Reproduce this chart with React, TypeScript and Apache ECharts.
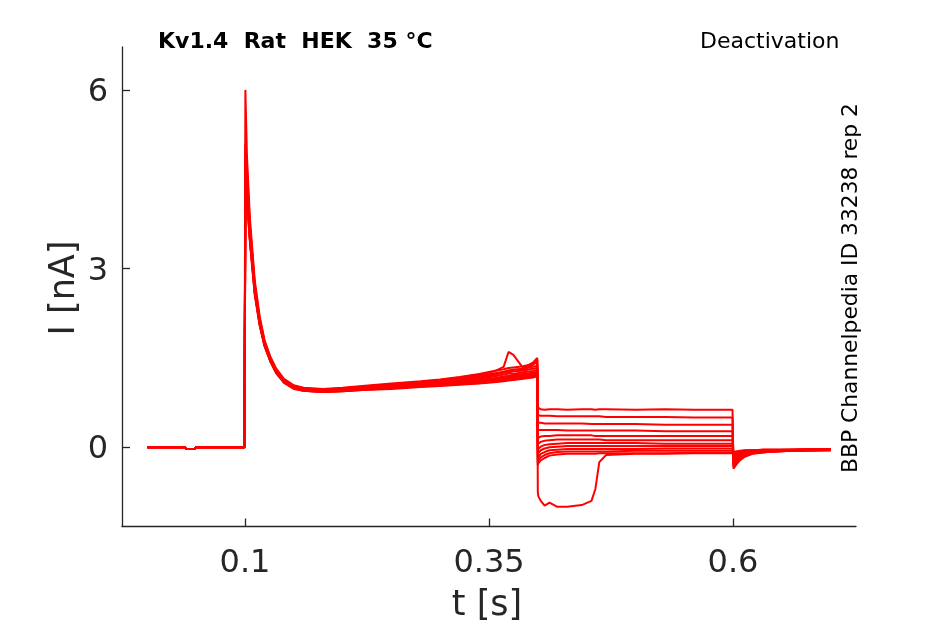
import React, { useEffect, useRef } from "react";
import * as echarts from "echarts";

const X_TICKS = [0.1, 0.35, 0.6];
const Y_TICKS = [0, 3, 6];

const PRE_T = [0, 0.038, 0.04, 0.048, 0.05, 0.0995];
const PRE_I = [0, 0, -0.03, -0.03, 0, 0];

const ACT_T = [0.1, 0.1004, 0.102, 0.105, 0.11, 0.115, 0.12, 0.126, 0.132, 0.14, 0.15, 0.16, 0.18, 0.2, 0.22, 0.25, 0.28, 0.3, 0.32, 0.34, 0.355, 0.365, 0.37, 0.375, 0.385, 0.395, 0.3995];
const ACT_1 = [0, 6.0, 4.9, 3.85, 2.8, 2.2, 1.8, 1.52, 1.32, 1.15, 1.04, 1.0, 0.98, 1.0, 1.03, 1.07, 1.11, 1.14, 1.18, 1.23, 1.28, 1.31, 1.33, 1.34, 1.36, 1.4, 1.42];
const ACT_2 = [0, 5.1, 4.7, 3.75, 2.75, 2.17, 1.78, 1.5, 1.3, 1.13, 1.03, 0.99, 0.97, 0.99, 1.02, 1.06, 1.1, 1.13, 1.17, 1.22, 1.27, 1.35, 1.6, 1.55, 1.33, 1.42, 1.5];
const ACT_3 = [0, 4.9, 4.6, 3.7, 2.72, 2.15, 1.77, 1.49, 1.29, 1.12, 1.02, 0.98, 0.96, 0.98, 1.01, 1.05, 1.09, 1.12, 1.16, 1.2, 1.24, 1.27, 1.29, 1.3, 1.32, 1.35, 1.37];
const ACT_4 = [0, 4.8, 4.5, 3.65, 2.7, 2.13, 1.76, 1.48, 1.28, 1.12, 1.02, 0.97, 0.96, 0.97, 1.0, 1.04, 1.08, 1.11, 1.14, 1.18, 1.22, 1.25, 1.26, 1.27, 1.29, 1.32, 1.33];
const ACT_5 = [0, 4.7, 4.45, 3.6, 2.68, 2.12, 1.75, 1.47, 1.27, 1.11, 1.01, 0.97, 0.95, 0.97, 0.99, 1.03, 1.07, 1.09, 1.12, 1.15, 1.19, 1.22, 1.24, 1.23, 1.26, 1.28, 1.3];
const ACT_6 = [0, 4.6, 4.4, 3.58, 2.66, 2.1, 1.74, 1.46, 1.27, 1.11, 1.01, 0.96, 0.95, 0.96, 0.99, 1.02, 1.05, 1.08, 1.1, 1.13, 1.16, 1.19, 1.2, 1.21, 1.23, 1.25, 1.27];
const ACT_7 = [0, 4.5, 4.35, 3.55, 2.64, 2.09, 1.73, 1.46, 1.26, 1.1, 1.0, 0.96, 0.94, 0.96, 0.98, 1.01, 1.04, 1.07, 1.09, 1.12, 1.14, 1.17, 1.18, 1.19, 1.21, 1.23, 1.25];
const ACT_8 = [0, 4.4, 4.3, 3.52, 2.62, 2.08, 1.72, 1.45, 1.26, 1.1, 1.0, 0.96, 0.94, 0.95, 0.97, 1.0, 1.03, 1.06, 1.08, 1.1, 1.13, 1.15, 1.16, 1.17, 1.19, 1.21, 1.23];
const ACT_9 = [0, 4.3, 4.25, 3.5, 2.6, 2.07, 1.71, 1.45, 1.25, 1.09, 0.99, 0.95, 0.93, 0.95, 0.97, 1.0, 1.03, 1.05, 1.07, 1.09, 1.11, 1.13, 1.14, 1.15, 1.17, 1.19, 1.21];
const ACT_10 = [0, 4.2, 4.2, 3.48, 2.58, 2.06, 1.7, 1.44, 1.25, 1.09, 0.99, 0.95, 0.93, 0.94, 0.96, 0.99, 1.02, 1.04, 1.06, 1.08, 1.1, 1.12, 1.13, 1.14, 1.16, 1.18, 1.2];
const ACT_11 = [0, 4.1, 4.15, 3.45, 2.56, 2.05, 1.7, 1.44, 1.24, 1.08, 0.98, 0.95, 0.93, 0.94, 0.96, 0.98, 1.01, 1.03, 1.05, 1.07, 1.09, 1.11, 1.12, 1.13, 1.15, 1.17, 1.19];
const ACT_12 = [0, 5.0, 4.55, 3.68, 2.7, 2.14, 1.76, 1.48, 1.28, 1.12, 1.02, 0.97, 0.95, 0.97, 1.0, 1.04, 1.08, 1.1, 1.13, 1.17, 1.21, 1.26, 1.28, 1.3, 1.31, 1.38, 1.46];

const STEP_T = [0.4, 0.4005, 0.403, 0.407, 0.412, 0.42, 0.43, 0.445, 0.455, 0.459, 0.463, 0.47, 0.5, 0.53, 0.56, 0.5995];
const STEP_1 = [0.64, 0.66, 0.64, 0.63, 0.64, 0.64, 0.63, 0.64, 0.64, 0.63, 0.64, 0.64, 0.63, 0.64, 0.63, 0.63];
const STEP_2 = [0.54, 0.54, 0.53, 0.53, 0.53, 0.52, 0.52, 0.52, 0.52, 0.52, 0.52, 0.51, 0.51, 0.51, 0.5, 0.5];
const STEP_3 = [0.41, 0.41, 0.41, 0.4, 0.4, 0.4, 0.4, 0.4, 0.39, 0.39, 0.39, 0.39, 0.39, 0.38, 0.38, 0.38];
const STEP_4 = [0.3, 0.29, 0.29, 0.29, 0.29, 0.29, 0.28, 0.28, 0.28, 0.28, 0.28, 0.28, 0.28, 0.27, 0.27, 0.27];
const STEP_5 = [0.15, 0.16, 0.18, 0.19, 0.19, 0.2, 0.2, 0.2, 0.2, 0.19, 0.19, 0.19, 0.19, 0.19, 0.19, 0.19];
const STEP_6 = [0.05, 0.06, 0.09, 0.11, 0.12, 0.13, 0.13, 0.13, 0.13, 0.13, 0.13, 0.12, 0.12, 0.12, 0.12, 0.12];
const STEP_7 = [-0.04, -0.03, 0.01, 0.04, 0.05, 0.06, 0.07, 0.07, 0.07, 0.07, 0.07, 0.07, 0.07, 0.06, 0.06, 0.06];
const STEP_8 = [-0.12, -0.1, -0.05, -0.02, 0.0, 0.01, 0.02, 0.02, 0.02, 0.02, 0.02, 0.02, 0.02, 0.02, 0.02, 0.02];
const STEP_9 = [-0.2, -0.17, -0.11, -0.08, -0.05, -0.04, -0.03, -0.03, -0.03, -0.03, -0.03, -0.03, -0.03, -0.02, -0.02, -0.02];
const STEP_10 = [-0.25, -0.22, -0.17, -0.13, -0.1, -0.08, -0.07, -0.07, -0.07, -0.07, -0.07, -0.07, -0.06, -0.06, -0.06, -0.06];
const STEP_11 = [-0.3, -0.27, -0.22, -0.18, -0.14, -0.12, -0.11, -0.11, -0.11, -0.11, -0.1, -0.1, -0.1, -0.1, -0.09, -0.09];
const STEP_12 = [-0.75, -0.82, -0.9, -0.98, -0.93, -1.0, -1.0, -0.97, -0.9, -0.7, -0.25, -0.13, -0.11, -0.11, -0.1, -0.1];

const POST_T = [0.6, 0.6005, 0.603, 0.607, 0.612, 0.62, 0.635, 0.66, 0.7];
const POST_1 = [0.63, -0.36, -0.3, -0.22, -0.16, -0.11, -0.08, -0.06, -0.05];
const POST_2 = [0.5, -0.33, -0.28, -0.2, -0.15, -0.1, -0.08, -0.06, -0.05];
const POST_3 = [0.38, -0.3, -0.25, -0.18, -0.13, -0.1, -0.07, -0.06, -0.05];
const POST_4 = [0.27, -0.27, -0.22, -0.16, -0.12, -0.09, -0.07, -0.06, -0.04];
const POST_5 = [0.19, -0.24, -0.2, -0.14, -0.11, -0.08, -0.06, -0.05, -0.04];
const POST_6 = [0.12, -0.2, -0.17, -0.12, -0.1, -0.07, -0.06, -0.05, -0.04];
const POST_7 = [0.06, -0.17, -0.14, -0.1, -0.08, -0.07, -0.05, -0.05, -0.04];
const POST_8 = [0.02, -0.14, -0.12, -0.09, -0.07, -0.06, -0.05, -0.04, -0.03];
const POST_9 = [-0.02, -0.12, -0.1, -0.08, -0.07, -0.06, -0.05, -0.04, -0.03];
const POST_10 = [-0.06, -0.1, -0.09, -0.07, -0.06, -0.05, -0.04, -0.04, -0.03];
const POST_11 = [-0.09, -0.09, -0.08, -0.07, -0.06, -0.05, -0.04, -0.04, -0.03];
const POST_12 = [-0.1, -0.08, -0.07, -0.06, -0.05, -0.05, -0.04, -0.04, -0.03];

const ACTS = [ACT_1, ACT_2, ACT_3, ACT_4, ACT_5, ACT_6, ACT_7, ACT_8, ACT_9, ACT_10, ACT_11, ACT_12];
const STEPS = [STEP_1, STEP_2, STEP_3, STEP_4, STEP_5, STEP_6, STEP_7, STEP_8, STEP_9, STEP_10, STEP_11, STEP_12];
const POSTS = [POST_1, POST_2, POST_3, POST_4, POST_5, POST_6, POST_7, POST_8, POST_9, POST_10, POST_11, POST_12];

const zip = (t: number[], v: number[]) => t.map((x, i) => [x, v[i]]);

const FONT = "'DejaVu Sans', sans-serif";
const AXIS_COLOR = "#262626";

export default function App() {
  const ref = useRef<HTMLDivElement>(null);
  useEffect(() => {
    const chart = echarts.init(ref.current!, null, { renderer: "svg" });
    const series = ACTS.map((act, i) => ({
      type: "line",
      showSymbol: false,
      silent: true,
      data: [...zip(PRE_T, PRE_I), ...zip(ACT_T, act), ...zip(STEP_T, STEPS[i]), ...zip(POST_T, POSTS[i])],
      lineStyle: { color: "#ff0000", width: 2 },
      itemStyle: { color: "#ff0000" },
    }));
    chart.setOption({
      animation: false,
      grid: { left: 122, top: 47, right: 89, bottom: 97.5, containLabel: false, outerBoundsMode: "none" },
      xAxis: {
        type: "value",
        min: -0.026,
        max: 0.726,
        axisLine: { show: true, onZero: false, lineStyle: { color: AXIS_COLOR, width: 1.3 } },
        axisTick: { show: true, inside: true, length: 8, customValues: X_TICKS, lineStyle: { color: AXIS_COLOR, width: 1.3 } },
        axisLabel: { customValues: X_TICKS, color: AXIS_COLOR, fontSize: 32, fontFamily: FONT, margin: 18 },
        splitLine: { show: false },
      },
      yAxis: {
        type: "value",
        min: -1.33,
        max: 6.72,
        axisLine: { show: true, onZero: false, lineStyle: { color: AXIS_COLOR, width: 1.3 } },
        axisTick: { show: true, inside: true, length: 8, customValues: Y_TICKS, lineStyle: { color: AXIS_COLOR, width: 1.3 } },
        axisLabel: { customValues: Y_TICKS, color: AXIS_COLOR, fontSize: 32, fontFamily: FONT, margin: 14 },
        splitLine: { show: false },
      },
      series,
      graphic: [
        { type: "text", x: 158, y: 40, style: { text: "Kv1.4  Rat  HEK  35 °C", font: `bold 22px ${FONT}`, fill: "#000", align: "left", verticalAlign: "middle" } },
        { type: "text", x: 700, y: 40, style: { text: "Deactivation", font: `22px ${FONT}`, fill: "#000", align: "left", verticalAlign: "middle" } },
        { type: "text", x: 849, y: 288, rotation: Math.PI / 2, style: { text: "BBP Channelpedia ID 33238 rep 2", font: `21.8px ${FONT}`, fill: "#000", align: "center", verticalAlign: "middle" } },
        { type: "text", x: 62, y: 288, rotation: Math.PI / 2, style: { text: "I [nA]", font: `35px ${FONT}`, fill: AXIS_COLOR, align: "center", verticalAlign: "middle" } },
        { type: "text", x: 487, y: 603, style: { text: "t [s]", font: `35px ${FONT}`, fill: AXIS_COLOR, align: "center", verticalAlign: "middle" } },
      ],
    });
    return () => chart.dispose();
  }, []);
  return <div ref={ref} style={{ position: "fixed", left: 0, top: 0, width: 945, height: 624 }} />;
}
